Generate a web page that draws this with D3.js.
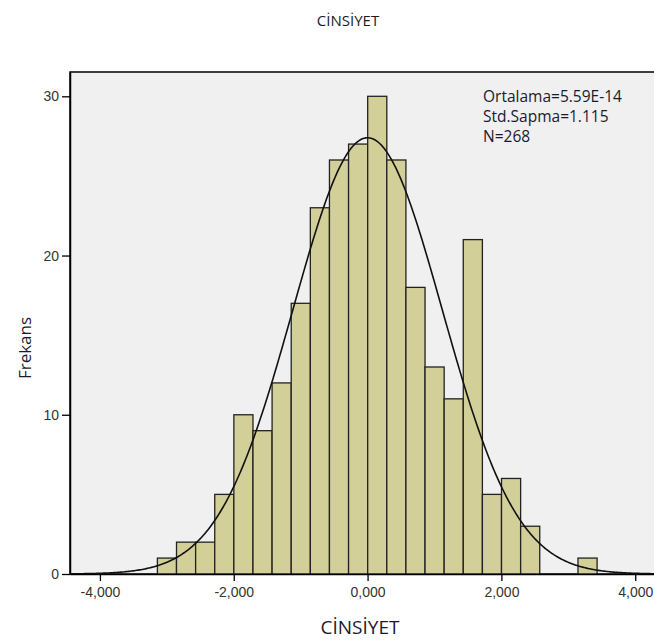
<!DOCTYPE html>
<html>
<head>
<meta charset="utf-8">
<script src="https://cdn.jsdelivr.net/npm/d3@7"></script>
<style>
  body { margin: 0; background: #fff; }
  svg { display: block; }
  .tick text { font-family: "Liberation Sans", Arial, sans-serif; font-size: 14px; fill: #333; }
</style>
</head>
<body>
<svg id="chart" width="654" height="641"></svg>
<script>
// histogram data
const counts = [1, 2, 2, 5, 10, 9, 12, 17, 23, 26, 27, 30, 26, 18, 13, 11, 21, 5, 6, 3, 0, 0, 1];
const binStart = -3.141;
const binWidth = 0.2857;
const xTicks = [-4, -2, 0, 2, 4];
const xTickLabels = ['-4,000', '-2,000', '0,000', '2,000', '4,000'];
const yTicks = [0, 10, 20, 30];
const statLines = ['Ortalama=5.59E-14', 'Std.Sapma=1.115', 'N=268'];
const mean = 0, sd = 1.115, n = 268;

const svg = d3.select('#chart');
const plotLeft = 70, plotTop = 72, plotBottom = 574, plotRight = 662;

const x = d3.scaleLinear().domain([-4.447, 4.4]).range([plotLeft, plotRight]);
// 30 sits at y=96.3 in the reference
const y = d3.scaleLinear()
  .domain([0, 30 * (plotBottom - plotTop) / (plotBottom - 96.3)])
  .range([plotBottom, plotTop]);

const bins = counts.map((c, i) => ({x0: binStart + i * binWidth, x1: binStart + (i + 1) * binWidth, c: c}));

// plot background
svg.append('rect')
  .attr('x', plotLeft).attr('y', plotTop)
  .attr('width', plotRight - plotLeft).attr('height', plotBottom - plotTop)
  .attr('fill', '#f0f0f0')
  .attr('stroke', '#000').attr('stroke-width', 1.5);

// bars
svg.selectAll('rect.bar')
  .data(bins.filter(d => d.c > 0))
  .enter().append('rect')
  .attr('class', 'bar')
  .attr('x', d => x(d.x0))
  .attr('y', d => y(d.c))
  .attr('width', d => x(d.x1) - x(d.x0))
  .attr('height', d => y(0) - y(d.c))
  .attr('fill', '#d3cf98')
  .attr('stroke', '#222')
  .attr('stroke-width', 1.3);

// normal curve
const pdf = v => Math.exp(-0.5 * ((v - mean) / sd) ** 2) / (sd * Math.sqrt(2 * Math.PI));
const curvePts = d3.range(-4.447, 4.4, 0.02).map(v => [v, n * binWidth * pdf(v)]);
svg.append('path')
  .datum(curvePts)
  .attr('fill', 'none')
  .attr('stroke', '#111')
  .attr('stroke-width', 1.6)
  .attr('d', d3.line().x(d => x(d[0])).y(d => y(d[1])));

// axes
const yAxis = svg.append('g')
  .attr('transform', `translate(${plotLeft},0)`)
  .call(d3.axisLeft(y).tickValues(yTicks).tickSizeInner(8).tickSizeOuter(0).tickPadding(3).tickFormat(d3.format('d')));
const xAxis = svg.append('g')
  .attr('transform', `translate(0,${plotBottom})`)
  .call(d3.axisBottom(x).tickValues(xTicks).tickSizeInner(7).tickSizeOuter(0).tickPadding(6).tickFormat((d, i) => xTickLabels[i]));
[yAxis, xAxis].forEach(g => {
  g.select('.domain').attr('stroke', '#000').attr('stroke-width', 1.5);
  g.selectAll('.tick line').attr('stroke', '#000').attr('stroke-width', 1.3);
});

// stats box text
svg.append('g').selectAll('text')
  .data(statLines)
  .enter().append('text')
  .attr('x', 483)
  .attr('y', (d, i) => 102 + i * 20)
  .attr('font-family', '"Open Sans", "Noto Sans", sans-serif')
  .attr('font-size', 15.5)
  .attr('fill', '#1a1a2e')
  .text(d => d);

// titles
svg.append('text')
  .attr('x', 348).attr('y', 26)
  .attr('text-anchor', 'middle')
  .attr('font-family', '"Open Sans", "Noto Sans", sans-serif')
  .attr('font-size', 15)
  .attr('fill', '#1a1a2e')
  .text('CİNSİYET');

svg.append('text')
  .attr('x', 360).attr('y', 634)
  .attr('text-anchor', 'middle')
  .attr('font-family', '"Open Sans", "Noto Sans", sans-serif')
  .attr('font-size', 19)
  .attr('fill', '#1a1a2e')
  .text('CİNSİYET');

svg.append('text')
  .attr('transform', 'translate(31,348) rotate(-90)')
  .attr('text-anchor', 'middle')
  .attr('font-family', '"Open Sans", "Noto Sans", sans-serif')
  .attr('font-size', 17)
  .attr('fill', '#1a1a2e')
  .text('Frekans');
</script>
</body>
</html>
